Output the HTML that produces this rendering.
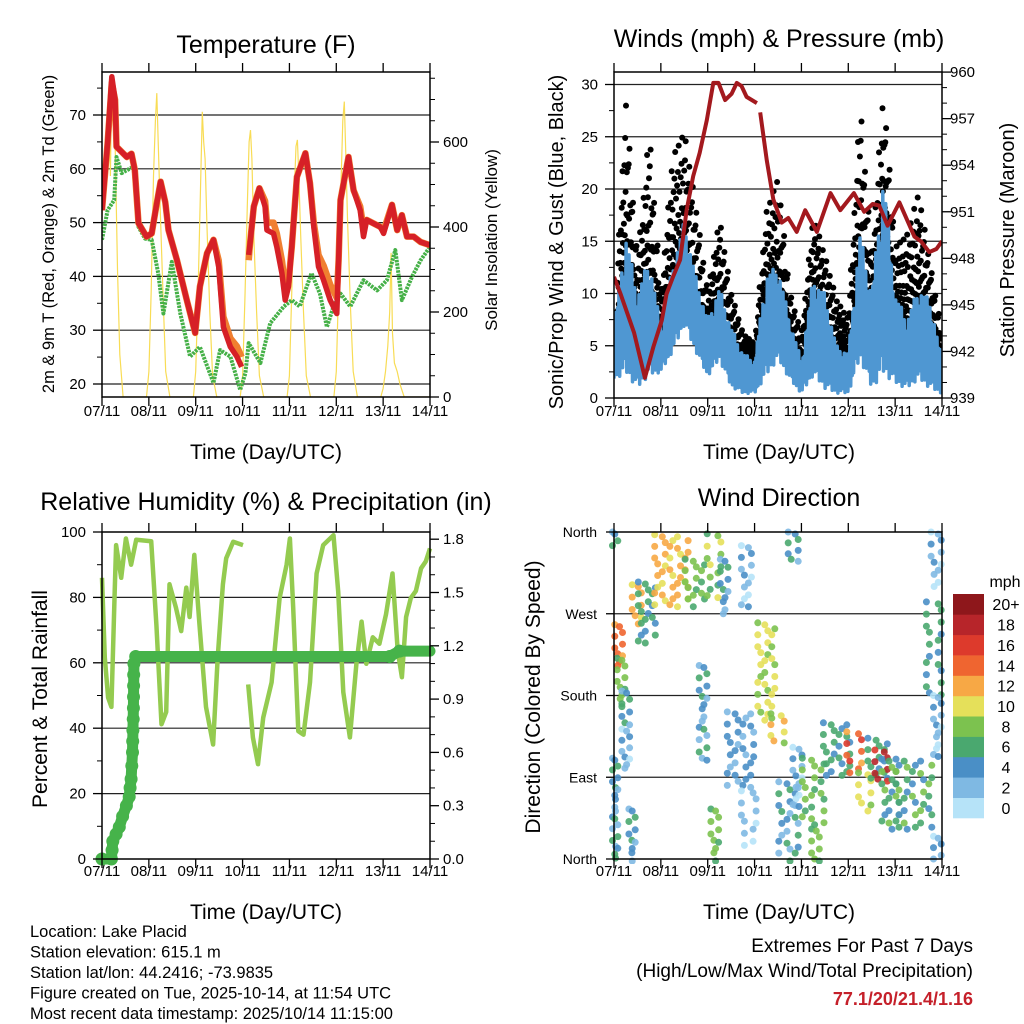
<!DOCTYPE html>
<html><head><meta charset="utf-8">
<style>
html,body{margin:0;padding:0;background:#fff;}
svg{display:block;font-family:"Liberation Sans",Arial,sans-serif;}
</style></head>
<body>
<svg id="c" width="1024" height="1024" viewBox="0 0 1024 1024" xmlns="http://www.w3.org/2000/svg">
<rect width="1024" height="1024" fill="#fff"/>
</svg>
<script>
// ===== Temperature panel data =====
const tempT = [0,0.12,0.21,0.28,0.31,0.53,0.63,0.7,0.78,0.95,1.06,1.17,1.25,1.35,1.42,1.6,1.81,1.99,2.09,2.24,2.38,2.49,2.59,2.74,2.88,2.98];
const tempRed = [52.3,64.8,77.1,72.8,64.1,62.2,62.8,59.8,49.9,47.4,48,53.6,57.6,53.8,48.6,43,35.6,29.5,38.1,44.3,46.8,41.8,30.6,26.9,25.1,23.2];
const tempT2 = [3.13,3.16,3.24,3.36,3.48,3.52,3.66,3.73,3.84,3.91,3.98,4.05,4.16,4.34,4.44,4.52,4.62,4.73,4.87,5.01,5.05,5.09,5.26,5.37,5.51,5.58,5.65,5.94,6.01,6.19,6.3,6.4,6.51,6.65,6.8,7.0];
const tempRed2 = [44,46.2,53,56.4,53,48.6,48,45.5,40.6,35.6,38.1,45.5,58.5,62.9,57.3,49.2,41.8,39.3,35.6,33.1,43,54.2,62.2,56,52.3,47.4,50.5,49.2,48,53.3,48.6,51.4,47.4,47.4,46.4,45.8];
const tempOrange = [52.3,64.8,76,72.8,64.1,62.2,62.8,59.8,49.9,47.4,48,53.6,57.6,53.8,48.6,43,35.6,29.5,38.1,44.3,46.8,43,32.5,28.5,27,25];
const tempOrange2 = [43,46.2,53,56.4,54,50,50,48,43,38,39,45.5,58.5,62.9,57.3,50,44,42,38.5,36,43,54.2,62.2,56,53,49,50.5,49.2,48.5,53.3,48.6,51.4,47.4,47.4,46.4,45.8];
const dewT = [0,0.12,0.26,0.31,0.42,0.67,0.78,0.92,1.06,1.2,1.31,1.49,1.67,1.88,2.09,2.38,2.52,2.74,2.95,3.06,3.13,3.38,3.59,3.88,4.05,4.22,4.47,4.65,4.8,4.94,5.09,5.3,5.58,5.87,6.08,6.26,6.4,6.62,6.8,7.0];
const dewV = [46.8,52.3,54.2,62.2,59.2,60.4,49.2,47,46.8,40.6,33.1,42.7,33.1,25.1,26.9,20.2,26.3,25.1,18.9,22,27.6,23.9,31.3,34.4,35.6,34.4,40.6,36.8,30.6,34.4,36.8,34.4,39.3,37.4,39.3,44.9,35.6,40,43,45.5];
const solarT = [0,0.05,0.1,0.15,0.18,0.21,0.24,0.28,0.33,0.38,0.45,
 0.95,1.0,1.05,1.1,1.14,1.17,1.2,1.24,1.3,1.36,1.45,
 1.95,2.0,2.05,2.1,2.14,2.17,2.2,2.24,2.3,2.36,2.45,
 2.95,3.0,3.05,3.1,3.14,3.17,3.2,3.24,3.3,3.36,3.45,
 3.95,4.0,4.05,4.1,4.14,4.17,4.2,4.24,4.3,4.36,4.45,
 4.95,5.0,5.05,5.1,5.14,5.17,5.2,5.24,5.3,5.36,5.45,
 5.95,6.0,6.05,6.1,6.14,6.17,6.2,6.24,6.3,6.36,6.45,7.0];
const solarV = [420,560,650,700,520,760,640,600,300,100,0,
 0,60,250,520,650,715,600,450,250,60,0,
 0,60,250,480,671,600,560,400,200,50,0,
 0,50,230,450,600,628,560,380,200,50,0,
 0,50,250,470,590,605,520,380,200,50,0,
 0,60,260,500,650,695,580,420,220,60,0,
 0,20,60,120,200,339,150,80,60,30,0,0];
const tempTicks = [20,30,40,50,60,70];
const solarTicks = [0,200,400,600];
const dayLabels = ["07/11","08/11","09/11","10/11","11/11","12/11","13/11","14/11"];

// ===== Wind panel data =====
const presT = [0,0.14,0.43,0.66,0.84,1.02,1.12,1.26,1.41,1.55,1.69,1.83,1.98,2.12,2.23,2.37,2.51,2.62,2.72,2.83,3.05];
const presV = [946.8,945.7,943.2,940.3,942.3,944,945.7,946.8,947.9,951.1,953.3,954.8,956.9,959.3,959.3,958.2,958.6,959.3,959.1,958.4,958];
const presT2 = [3.12,3.26,3.4,3.58,3.72,3.9,4.08,4.33,4.62,4.83,5.12,5.34,5.52,5.66,5.84,6.09,6.41,6.55,6.73,6.88,7.0];
const presV2 = [957.4,954.3,951.8,950.3,950.6,949.7,951.1,949.7,952.2,951.1,952.2,951,951.5,951.4,950.1,951.6,949.4,949.1,948.4,948.6,949.1];
const windT = [0,0.25,0.5,0.75,1,1.25,1.5,1.75,2,2.25,2.5,2.75,3,3.25,3.5,3.75,4,4.25,4.5,4.75,5,5.25,5.5,5.75,6,6.25,6.5,6.75,7];
const windHi = [6.8,15.8,10,13.5,6.8,12.6,17,11.6,7.5,10.6,6.8,4.3,3.6,11.9,12.6,7.5,3.6,11.6,10,5,4.3,15.8,10,21.5,10,7.5,10.6,9.3,3.6];
const windLo = [1.7,2.2,0.8,2,2.4,4.3,6.8,4.3,2,3.6,1,0.4,0.4,2,3.6,1.7,0.4,2,0.8,0.4,0.4,3.6,0.8,2,1.3,0.8,1.7,0.8,0.4];
const gustHi = [5.8,28.5,13,25.3,10,23,25.3,18,10,17,10,6.1,5.2,17.7,21,10,6.1,17.4,13.5,9.3,7.5,27.9,13.5,29.3,14.4,15.5,19.6,12.6,6.1];
const windTicks = [0,5,10,15,20,25,30];
const presTicks = [939,942,945,948,951,954,957,960];

// ===== RH panel data =====
const rhT = [0,0.06,0.13,0.2,0.27,0.3,0.41,0.51,0.62,0.73,1.05,1.16,1.27,1.37,1.44,1.58,1.69,1.8,1.87,1.97,2.08,2.22,2.37,2.47,2.58,2.65,2.8,3.01];
const rhV = [86,61.6,49.4,46.5,81.8,96,86,98,90,97.6,97.2,71.6,41.2,45,84,76.8,69.7,83,74,93,71.6,46.5,35,61.6,84,92,97,96];
const rhT2 = [3.12,3.22,3.33,3.44,3.62,3.79,3.94,4.01,4.08,4.19,4.3,4.44,4.58,4.72,4.94,5.04,5.15,5.29,5.43,5.54,5.64,5.78,5.92,6.06,6.2,6.31,6.4,6.49,6.59,6.7,6.81,6.91,7.0];
const rhV2 = [53.4,37.2,29,43.2,54,79.8,90,98,76.8,39.1,38,54,87.3,96,99,81.8,51,37.2,59.7,72.6,59.7,67.8,65.8,74.8,87.3,63.7,55.6,74,79.8,82,88.9,91,95];
const rainT = [0,0.2,0.23,0.3,0.37,0.44,0.52,0.58,0.62,0.65,0.67,0.68,0.72,6.14,6.35,7.0];
const rainV = [0,0,0.1,0.14,0.18,0.24,0.3,0.35,0.45,0.6,0.85,1.1,1.14,1.14,1.17,1.17];
const rhTicks = [0,20,40,60,80,100];
const rainTicks = [0.0,0.3,0.6,0.9,1.2,1.5,1.8];

// ===== Wind direction panel data (clusters of observations) =====
const clStart = [0.0,0.0,0.05,0.1,0.2,0.2,0.35,0.42,0.55,0.9,1.55,1.85,2.02,2.1,2.3,2.45,2.75,2.75,3.1,3.38,3.55,3.75,3.85,4.05,4.25,4.5,5.0,5.25,5.45,5.6,5.75,6.05,6.7,6.8,6.85,6.85];
const clEnd   = [0.05,0.05,0.15,0.2,0.3,0.3,0.42,0.55,0.85,1.55,1.9,1.95,2.25,2.2,2.4,2.95,2.9,3.0,3.4,3.6,3.9,3.9,3.98,4.45,4.35,5.0,5.25,5.45,5.8,5.8,6.05,6.75,6.95,6.95,6.95,6.95];
const clDirLo = [1,345,213,170,150,100,0,261,240,280,280,111,290,0,270,81,280,15,155,130,0,330,60,40,0,92,95,55,89,88,35,35,183,300,115,0];
const clDirHi = [111,360,258,221,185,143,55,302,305,357,330,213,358,55,330,162,345,75,260,160,85,360,123,111,33,150,140,95,133,120,110,110,283,360,180,25];
const clSpeed = [4,4,13,7,4,2,4,11,5,11,7,4,8,7,4,3,2,1,9,10,4,4,2,7,7,5,14,9,5,17,6,6,5,2,2,2];
const dirTicks = [0,90,180,270,360];
const dirLabels = ["North","East","South","West","North"];
const speedBins = ["0","2","4","6","8","10","12","14","16","18","20+"];
const speedColors = ["#b6e3f8","#7fb9e3","#4a8fc6","#4aa86f","#7cc24f","#e5e05a","#f7a845","#ef6530","#dd3a2c","#b7252a","#8e171b"];

// ===== rendering =====
const svg = document.getElementById('c');
const NS = 'http://www.w3.org/2000/svg';
const TICK = 15;
function el(tag, attrs, parent){
  const e = document.createElementNS(NS, tag);
  for (const k in attrs) e.setAttribute(k, attrs[k]);
  (parent||svg).appendChild(e);
  return e;
}
function txt(s, x, y, size, anchor, parent, extra){
  const t = el('text', Object.assign({x:x, y:y, 'font-size':size, 'text-anchor':anchor||'middle', fill:'#000'}, extra||{}), parent);
  t.textContent = s;
  return t;
}
function interp(ts, vs, t){
  if (t <= ts[0]) return vs[0];
  for (let i=1;i<ts.length;i++){ if (t <= ts[i]){ const f=(t-ts[i-1])/(ts[i]-ts[i-1]); return vs[i-1]+f*(vs[i]-vs[i-1]); } }
  return vs[vs.length-1];
}
function makePanel(x0,y0,x1,y1){ return {x0,y0,x1,y1, xs:d=>x0+d/7*(x1-x0)}; }
function pathOf(ts, vs, xs, ys){
  return ts.map((t,i)=>(i?'L':'M')+xs(t).toFixed(1)+','+ys(vs[i]).toFixed(1)).join(' ');
}
function xAxis(p, g, labY){
  for (let d=0; d<=7; d++){
    const x = p.xs(d);
    el('line',{x1:x,y1:p.y1,x2:x,y2:p.y1+9,stroke:'#000','stroke-width':1.3},g);
    el('line',{x1:x,y1:p.y0,x2:x,y2:p.y0-9,stroke:'#000','stroke-width':1.3},g);
    const t = txt(dayLabels[d], x, labY, TICK, 'middle', g);
    
    
  }
}
function grid(p, g, vals, ys){
  vals.forEach(v=>{ const y=ys(v); if (y>p.y0+1 && y<p.y1-1) el('line',{x1:p.x0,y1:y,x2:p.x1,y2:y,stroke:'#222','stroke-width':1.2},g); });
}
function leftTicks(p,g,vals,ys,minor,labX){
  vals.forEach(v=>{ const y=ys(v); el('line',{x1:p.x0-9,y1:y,x2:p.x0,y2:y,stroke:'#000','stroke-width':1.3},g);
    const t=txt(String(v), labX, y+5, TICK, 'end', g);
    
     });
  minor.forEach(v=>{ const y=ys(v); if(y>p.y0&&y<p.y1) el('line',{x1:p.x0-5,y1:y,x2:p.x0,y2:y,stroke:'#000','stroke-width':1},g); });
}
function rightTicks(p,g,vals,ys,minor,labX,fmt){
  vals.forEach(v=>{ const y=ys(v); el('line',{x1:p.x1,y1:y,x2:p.x1+9,y2:y,stroke:'#000','stroke-width':1.3},g);
    const t=txt(fmt?fmt(v):String(v), labX, y+5, TICK, 'start', g);
    
     });
  minor.forEach(v=>{ const y=ys(v); if(y>p.y0&&y<p.y1) el('line',{x1:p.x1,y1:y,x2:p.x1+5,y2:y,stroke:'#000','stroke-width':1},g); });
}
function frame(p,g){ el('rect',{x:p.x0,y:p.y0,width:p.x1-p.x0,height:p.y1-p.y0,fill:'none',stroke:'#000','stroke-width':1.5},g); }
function rotLabel(s,x,y,size,g){ return txt(s,x,y,size,'middle',g,{transform:'rotate(-90 '+x+' '+y+')'}); }

// ---------- Panel 1: Temperature ----------
{
  const g = el('g',{});
  
  
  const p = makePanel(102,72,430,397);
  const yT = v=>384-(v-20)*5.38;
  const yS = v=>397-v*0.425;
  grid(p,g,tempTicks,yT);
  const clip = el('clipPath',{id:'cp1'},g); el('rect',{x:p.x0,y:p.y0,width:p.x1-p.x0,height:p.y1-p.y0},clip);
  const pg = el('g',{'clip-path':'url(#cp1)'},g);
  const sol = el('path',{d:pathOf(solarT,solarV,p.xs,yS),fill:'none',stroke:'#f8dc55','stroke-width':1.2},pg);
   
  const dw = el('path',{d:pathOf(dewT,dewV,p.xs,yT),fill:'none',stroke:'#45b047','stroke-width':4,'stroke-dasharray':'2.5 1','stroke-linejoin':'round'},pg);
   
  [[tempT,tempOrange],[tempT2,tempOrange2]].forEach(a=>{
    const o = el('path',{d:pathOf(a[0],a[1],p.xs,yT),fill:'none',stroke:'#f07f30','stroke-width':6.5,'stroke-linejoin':'round'},pg);
     
  });
  [[tempT,tempRed],[tempT2,tempRed2]].forEach(a=>{
    const r = el('path',{d:pathOf(a[0],a[1],p.xs,yT),fill:'none',stroke:'#d62027','stroke-width':5.5,'stroke-linejoin':'round'},pg);
     
  });
  const mT=[]; for(let v=20;v<=75;v+=5) if(v%10) mT.push(v);
  leftTicks(p,g,tempTicks,yT,mT,86);
  const mS=[]; for(let v=50;v<=750;v+=50) if(v%200) mS.push(v);
  rightTicks(p,g,solarTicks,yS,mS,443);
  xAxis(p,g,416);
  frame(p,g);
  const t1=txt('Temperature (F)',266,53,25,'middle',g);  
  const a1=txt('Time (Day/UTC)',266,459,21,'middle',g);  
  const l1=rotLabel('2m & 9m T (Red, Orange) & 2m Td (Green)',54,234,16.5,g);  
  const r1=rotLabel('Solar Insolation (Yellow)',497,240,17,g);  
}

// ---------- Panel 2: Winds & Pressure ----------
{
  const g = el('g',{});
  
  
  const p = makePanel(614,72,942,398);
  const yW = v=>398-v*10.45;
  const yP = v=>398-(v-939)*15.52;
  grid(p,g,windTicks,yW);
  const clip = el('clipPath',{id:'cp2'},g); el('rect',{x:p.x0,y:p.y0,width:p.x1-p.x0,height:p.y1-p.y0},clip);
  const pg = el('g',{'clip-path':'url(#cp2)'},g);
  const pat = [0.1,0.55,0.3,0.9,0.2,0.7,0.45,1.0,0.05,0.6,0.35,0.8,0.25,0.5,0.65,0.15,0.4,0.85];
  const gd = el('g',{fill:'#000'},pg);
   
  const M = 60;
  for (let i=0;i<M*7;i++){
    const t = (i+0.5)/M;
    const hi = interp(windT,windHi,t), gu = interp(windT,gustHi,t);
    for (let k=0;k<4;k++){
      const f = pat[(i*4+k)%pat.length];
      const v = hi*0.6 + (gu-hi*0.6)*Math.pow(f,1.6);
      el('circle',{cx:p.xs(t+ (k-1.5)*0.004).toFixed(1),cy:yW(v).toFixed(1),r:3},gd);
    }
  }
  let d='';
  const N = 460;
  for (let i=0;i<=N;i++){
    const t = i/N*7;
    const hi = interp(windT,windHi,t), lo = interp(windT,windLo,t);
    const f = pat[i%pat.length];
    const v = (i%2) ? lo + (hi-lo)*(0.6+0.4*f) : lo + (hi-lo)*0.3*f;
    d += (i?'L':'M')+p.xs(t).toFixed(1)+','+yW(v).toFixed(1);
  }
  const wb = el('path',{d:d,fill:'none',stroke:'#4f97d2','stroke-width':3.5,'stroke-linejoin':'round'},pg);
   
  [[presT,presV],[presT2,presV2]].forEach(a=>{
    const pr = el('path',{d:pathOf(a[0],a[1],p.xs,yP),fill:'none',stroke:'#a3191e','stroke-width':4,'stroke-linejoin':'round'},pg);
     
  });
  const mW=[]; for(let v=2.5;v<=31;v+=5) mW.push(v);
  leftTicks(p,g,windTicks,yW,mW,598);
  const mP=[]; for(let v=940;v<=960;v++) if((v-939)%3) mP.push(v);
  rightTicks(p,g,presTicks,yP,mP,950);
  xAxis(p,g,416);
  frame(p,g);
  const t2=txt('Winds (mph) & Pressure (mb)',779,47,25,'middle',g);  
  const a2=txt('Time (Day/UTC)',779,459,21,'middle',g);  
  const l2=rotLabel('Sonic/Prop Wind & Gust (Blue, Black)',563,242,20,g);  
  const r2=rotLabel('Station Pressure (Maroon)',1014,240,20,g);  
}

// ---------- Panel 3: RH & Precip ----------
{
  const g = el('g',{});
  
  
  const p = makePanel(102,532,430,859);
  const yR = v=>859-v*3.27;
  const yPr = v=>859-v/0.3*53.3;
  grid(p,g,rhTicks,yR);
  const clip = el('clipPath',{id:'cp3'},g); el('rect',{x:p.x0-8,y:p.y0,width:p.x1-p.x0+16,height:p.y1-p.y0+8},clip);
  const pg = el('g',{'clip-path':'url(#cp3)'},g);
  [[rhT,rhV],[rhT2,rhV2]].forEach(a=>{
    const r = el('path',{d:pathOf(a[0],a[1],p.xs,yR),fill:'none',stroke:'#94cb50','stroke-width':4.5,'stroke-linejoin':'round'},pg);
     
  });
  const rl = el('path',{d:pathOf(rainT,rainV,p.xs,yPr),fill:'none',stroke:'#46b34a','stroke-width':11,'stroke-linecap':'round','stroke-linejoin':'round'},pg);
   
  const rd = el('g',{fill:'#46b34a'},pg);
   
  for (let i=0;i<rainT.length-1;i++){
    const steps = Math.max(1,Math.round(Math.abs(yPr(rainV[i+1])-yPr(rainV[i]))/11));
    for (let k=0;k<steps;k++){
      const f=k/steps, t=rainT[i]+f*(rainT[i+1]-rainT[i]), v=rainV[i]+f*(rainV[i+1]-rainV[i]);
      el('circle',{cx:p.xs(t).toFixed(1),cy:yPr(v).toFixed(1),r:6.5},rd);
    }
  }
  const mR=[]; for(let v=10;v<=90;v+=20) mR.push(v);
  leftTicks(p,g,rhTicks,yR,mR,86);
  const mPr=[]; for(let v=0.1;v<1.8;v+=0.1){ const r=Math.round(v*10); if(r%3) mPr.push(r/10); }
  rightTicks(p,g,rainTicks,yPr,mPr,443,v=>v.toFixed(1));
  xAxis(p,g,876);
  frame(p,g);
  const t3=txt('Relative Humidity (%) & Precipitation (in)',266,510,25,'middle',g);  
  const a3=txt('Time (Day/UTC)',266,919,21,'middle',g);  
  const l3=rotLabel('Percent & Total Rainfall',47,699,21,g);  
}

// ---------- Panel 4: Wind Direction ----------
{
  const g = el('g',{});
  
  
  const p = makePanel(614,532,942,859);
  const yD = v=>859-v/360*327;
  grid(p,g,dirTicks,yD);
  const clip = el('clipPath',{id:'cp4'},g); el('rect',{x:p.x0-5,y:p.y0-5,width:p.x1-p.x0+10,height:p.y1-p.y0+10},clip);
  const pg = el('g',{'clip-path':'url(#cp4)'},g);
  const colorFor = s=>speedColors[Math.max(0,Math.min(10,Math.round(s/2)))];
  for (let c=0;c<clStart.length;c++){
    const xa=p.xs(clStart[c]), xb=p.xs(clEnd[c]), ya=yD(clDirHi[c]), yb=yD(clDirLo[c]);
    const cols=Math.max(1,Math.round((xb-xa)/8)), rows=Math.max(1,Math.round((yb-ya)/6));
    const cg = el('g',{},pg);
    
    
    for (let i=0;i<=cols;i++) for (let j=0;j<=rows;j++){
      if ((i*7+j*3)%5>=3) continue;
      const sp = clSpeed[c] + (((i+j)%3)-1)*1.5;
      const x = xa + (xb-xa)*i/Math.max(1,cols) + ((j%2)?1.5:-1.5);
      const y = ya + (yb-ya)*j/Math.max(1,rows) + ((i%2)?2:0);
      el('circle',{cx:x.toFixed(1),cy:y.toFixed(1),r:3.5,fill:colorFor(sp),'fill-opacity':0.9},cg);
    }
  }
  dirTicks.forEach((v,i)=>{ const y=yD(v); el('line',{x1:p.x0-8,y1:y,x2:p.x0,y2:y,stroke:'#000','stroke-width':1.3},g);
    const t=txt(dirLabels[i],597,y+5,TICK-1,'end',g);
      });
  xAxis(p,g,876);
  frame(p,g);
  const lg = el('g',{},g);
   
  const bh = (818-594)/11;
  for (let i=0;i<11;i++){
    const y = 818-(i+1)*bh;
    const r = el('rect',{x:953,y:y.toFixed(1),width:31,height:(bh+0.3).toFixed(1),fill:speedColors[i]},lg);
     
    const t = txt(speedBins[i],1006,y+bh/2+6,16,'middle',lg);
     
  }
  const mu = txt('mph',1005,587,16,'middle',lg);  
  const t4=txt('Wind Direction',779,506,25,'middle',g);  
  const a4=txt('Time (Day/UTC)',779,919,21,'middle',g);  
  const l4=rotLabel('Direction (Colored By Speed)',540,697,21,g);  
}

// ---------- Footer ----------
{
  const g = el('g',{});
  
  
  const lines = ["Location: Lake Placid","Station elevation: 615.1 m","Station lat/lon: 44.2416; -73.9835","Figure created on Tue, 2025-10-14, at 11:54 UTC","Most recent data timestamp: 2025/10/14 11:15:00"];
  lines.forEach((s,i)=>{ const t=txt(s,30,937+i*20.5,16.5,'start',g);   });
  const e = el('g',{});
  
  
  const x1=txt('Extremes For Past 7 Days',973,952,19,'end',e);  
  const x2=txt('(High/Low/Max Wind/Total Precipitation)',973,977,19,'end',e);  
  const x3=txt('77.1/20/21.4/1.16',973,1005,18,'end',e,{fill:'#c5202a','font-weight':'bold'});  
}
</script>
</body></html>
